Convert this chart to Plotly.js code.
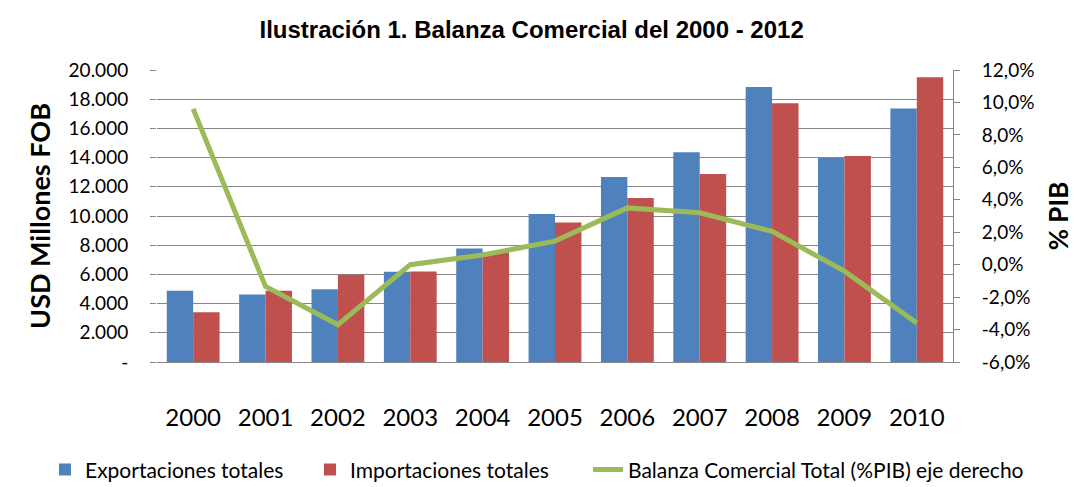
<!DOCTYPE html>
<html><head><meta charset="utf-8">
<script src="https://cdn.plot.ly/plotly-3.0.1.min.js"></script>
<style>body{margin:0;background:#fff}#chart{width:1074px;height:487px}</style>
</head><body><div id="chart"></div>
<script>
const years = ["2000","2001","2002","2003","2004","2005","2006","2007","2008","2009","2010"];
const exportaciones = [4880, 4630, 4980, 6190, 7770, 10130, 12670, 14360, 18830, 13970, 17370];
const importaciones = [3400, 4880, 5980, 6200, 7520, 9550, 11230, 12880, 17730, 14110, 19500];
const balanza = [9.6, -1.35, -3.7, 0.0, 0.6, 1.45, 3.5, 3.2, 2.05, -0.4, -3.6];
const leftTickVals = [0,2000,4000,6000,8000,10000,12000,14000,16000,18000,20000];
const leftTickText = ["-","2.000","4.000","6.000","8.000","10.000","12.000","14.000","16.000","18.000","20.000"];
const rightTickVals = [-6,-4,-2,0,2,4,6,8,10,12];
const rightTickText = ["-6,0%","-4,0%","-2,0%","0,0%","2,0%","4,0%","6,0%","8,0%","10,0%","12,0%"];

const font = "Lato, 'Open Sans', sans-serif";
const data = [
  {type:"bar", name:"Exportaciones totales", x:years, y:exportaciones, marker:{color:"#4F81BD"}, legend:"legend"},
  {type:"bar", name:"Importaciones totales", x:years, y:importaciones, marker:{color:"#C0504D"}, legend:"legend2"},
  {type:"scatter", mode:"lines", name:"Balanza Comercial Total (%PIB) eje derecho", x:years, y:balanza, yaxis:"y2", line:{color:"#9BBB59", width:5}, legend:"legend3"}
];
const legBase = {orientation:"h", xref:"container", yref:"container", xanchor:"left", y:0.035, yanchor:"middle", font:{family:font, size:21, color:"#000"}, itemwidth:30, bgcolor:"rgba(0,0,0,0)"};
const layout = {
  width:1074, height:487,
  margin:{l:157, r:121, t:70, b:125, autoexpand:false},
  paper_bgcolor:"#fff", plot_bgcolor:"#fff",
  title:{text:"<b>Ilustración 1. Balanza Comercial del 2000 - 2012</b>", font:{family:"'Liberation Sans', Arial, sans-serif", size:24, color:"#000"}, x:0.495, xanchor:"center", y:0.94, yanchor:"middle"},
  barmode:"group", bargap:0.27, bargroupgap:0,
  showlegend:true,
  legend:Object.assign({}, legBase, {x:45/1074}),
  legend2:Object.assign({}, legBase, {x:310/1074}),
  legend3:Object.assign({}, legBase, {x:588/1074}),
  xaxis:{type:"category", showgrid:false, showline:true, linecolor:"#868686", linewidth:1, ticks:"", ticklabelstandoff:34, tickfont:{family:font, size:24, color:"#000"}, zeroline:false},
  yaxis:{range:[0,20000], tickvals:leftTickVals, ticktext:leftTickText, showgrid:true, gridcolor:"#868686", gridwidth:1, ticks:"outside", ticklen:6, tickcolor:"#868686", ticklabelstandoff:18, showline:false, zeroline:false, tickfont:{family:font, size:19, color:"#000"},
    title:{text:"<b>USD Millones FOB</b>", font:{family:font, size:27, color:"#000"}, standoff:10}},
  yaxis2:{overlaying:"y", side:"right", range:[-6,12], tickvals:rightTickVals, ticktext:rightTickText, showgrid:false, showline:true, linecolor:"#868686", linewidth:1, ticks:"outside", ticklen:6, tickcolor:"#868686", ticklabelstandoff:18, zeroline:false, tickfont:{family:font, size:19, color:"#000"},
    title:{text:"<b>% PIB</b>", font:{family:font, size:26, color:"#000"}, standoff:18}}
};
Plotly.newPlot("chart", data, layout, {displayModeBar:false});
</script></body></html>
